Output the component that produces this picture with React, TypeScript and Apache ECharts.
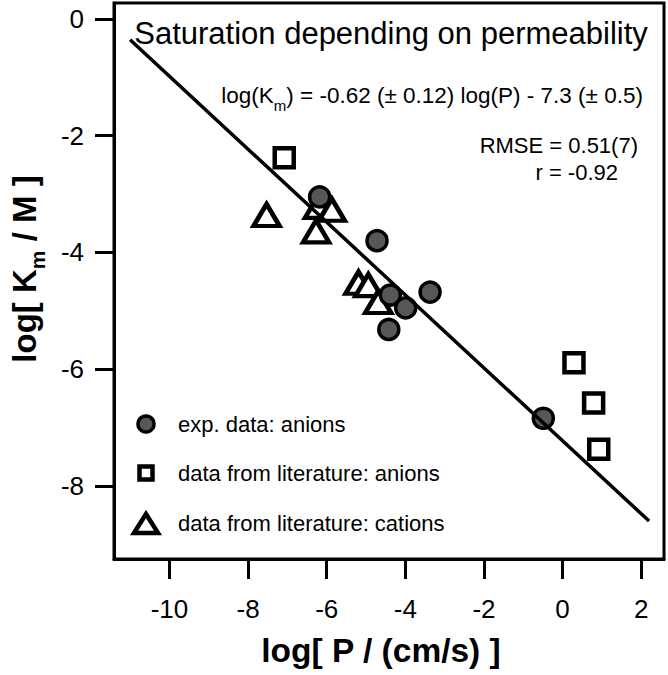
import React, { useEffect, useRef } from "react";
import * as echarts from "echarts";

const xTicks = [-10, -8, -6, -4, -2, 0, 2];
const yTicks = [0, -2, -4, -6, -8];

const expAnions: number[][] = [
  [-6.18, -3.05],
  [-4.72, -3.8],
  [-4.38, -4.73],
  [-3.99, -4.95],
  [-3.37, -4.68],
  [-4.42, -5.32],
  [-0.49, -6.84],
];
const litAnions: number[][] = [
  [-7.08, -2.38],
  [0.29, -5.89],
  [0.79, -6.58],
  [0.92, -7.37],
];
const litCations: number[][] = [
  [-7.53, -3.36],
  [-6.22, -3.22],
  [-5.87, -3.27],
  [-6.27, -3.64],
  [-5.19, -4.52],
  [-4.94, -4.56],
  [-4.69, -4.85],
];
const fitLine: number[][] = [
  [-11, -0.36],
  [2.2, -8.6],
];

const legendNames = [
  "exp. data: anions",
  "data from literature: anions",
  "data from literature: cations",
];

const FONT = "'Liberation Sans', Arial, Helvetica, sans-serif";

export default function App() {
  const ref = useRef<HTMLDivElement>(null);
  useEffect(() => {
    if (!ref.current) return;
    const chart = echarts.init(ref.current, null, { renderer: "svg" });
    const legX = 146;
    const legY = [424, 473, 523];
    chart.setOption({
      animation: false,
      textStyle: { fontFamily: FONT },
      grid: {
        left: 108,
        right: 4,
        top: 3,
        bottom: 116,
        show: true,
        borderColor: "#000",
        borderWidth: 3,
        containLabel: false,
      },
      xAxis: {
        type: "value",
        min: -11.41,
        max: 2.58,
        axisLine: { show: true, onZero: false, lineStyle: { color: "#000", width: 3 } },
        splitLine: { show: false },
        axisTick: {
          show: true,
          customValues: xTicks,
          length: 20,
          inside: false,
          lineStyle: { color: "#000", width: 3 },
        },
        axisLabel: {
          customValues: xTicks,
          fontSize: 26,
          color: "#000",
          margin: 37,
          fontFamily: FONT,
        },
        name: "log[ P / (cm/s) ]",
        nameLocation: "middle",
        nameGap: 74,
        nameTextStyle: {
          fontSize: 33.5,
          fontWeight: "bold",
          color: "#000",
          fontFamily: FONT,
          padding: [0, 16, 0, 0],
        },
      },
      yAxis: {
        type: "value",
        min: -9.25,
        max: 0.27,
        axisLine: { show: true, onZero: false, lineStyle: { color: "#000", width: 3 } },
        splitLine: { show: false },
        axisTick: {
          show: true,
          customValues: yTicks,
          length: 19,
          inside: false,
          lineStyle: { color: "#000", width: 3 },
        },
        axisLabel: {
          customValues: yTicks,
          fontSize: 26,
          color: "#000",
          margin: 30,
          fontFamily: FONT,
        },
        name: "{a|log[ K}{s|m}{a| / M ]}",
        nameLocation: "middle",
        nameGap: 73,
        nameTextStyle: {
          color: "#000",
          fontFamily: FONT,
          padding: [0, 0, 0, 24],
          rich: {
            a: { fontSize: 33, fontWeight: "bold", color: "#000", fontFamily: FONT },
            s: {
              fontSize: 21,
              fontWeight: "bold",
              color: "#000",
              fontFamily: FONT,
              verticalAlign: "bottom",
              padding: [0, 0, -7, 0],
            },
          },
        },
      },
      series: [
        {
          name: legendNames[2],
          type: "scatter",
          data: litCations,
          symbol: "triangle",
          symbolSize: [26, 22],
          itemStyle: { color: "#fff", borderColor: "#000", borderWidth: 4.5, opacity: 1 },
          z: 2,
        },
        {
          name: legendNames[1],
          type: "scatter",
          data: litAnions,
          symbol: "rect",
          symbolSize: 19,
          itemStyle: { color: "#fff", borderColor: "#000", borderWidth: 4.5, opacity: 1 },
          z: 3,
        },
        {
          name: legendNames[0],
          type: "scatter",
          data: expAnions,
          symbol: "circle",
          symbolSize: 20,
          itemStyle: { color: "#575757", borderColor: "#000", borderWidth: 3.5, opacity: 1 },
          z: 4,
        },
        {
          type: "line",
          data: fitLine,
          symbol: "none",
          lineStyle: { color: "#000", width: 3.5 },
          z: 5,
          silent: true,
        },
      ],
      graphic: [
        {
          type: "text",
          x: 391,
          y: 33,
          style: {
            text: "Saturation depending on permeability",
            fontSize: 31,
            fontFamily: FONT,
            fill: "#000",
            align: "center",
            verticalAlign: "middle",
          },
        },
        {
          type: "text",
          x: 643,
          y: 95,
          style: {
            text: "{t|log(K}{s|m}{t|) = -0.62 (± 0.12) log(P) - 7.3 (± 0.5)}",
            fontFamily: FONT,
            fill: "#000",
            align: "right",
            verticalAlign: "middle",
            rich: {
              t: { fontSize: 22.5, fontFamily: FONT, fill: "#000" },
              s: {
                fontSize: 15,
                fontFamily: FONT,
                fill: "#000",
                verticalAlign: "bottom",
                padding: [0, 0, -6, 0],
              },
            },
          },
        },
        {
          type: "text",
          x: 638,
          y: 145,
          style: {
            text: "RMSE = 0.51(7)",
            fontSize: 22,
            fontFamily: FONT,
            fill: "#000",
            align: "right",
            verticalAlign: "middle",
          },
        },
        {
          type: "text",
          x: 618,
          y: 172,
          style: {
            text: "r = -0.92",
            fontSize: 22,
            fontFamily: FONT,
            fill: "#000",
            align: "right",
            verticalAlign: "middle",
          },
        },
        {
          type: "circle",
          shape: { cx: legX, cy: legY[0], r: 8 },
          style: { fill: "#575757", stroke: "#000", lineWidth: 3.5 },
        },
        {
          type: "rect",
          shape: { x: legX - 6.5, y: legY[1] - 6.5, width: 13, height: 13 },
          style: { fill: "#fff", stroke: "#000", lineWidth: 4.5 },
        },
        {
          type: "polygon",
          shape: {
            points: [
              [legX, legY[2] - 9],
              [legX + 12, legY[2] + 10],
              [legX - 12, legY[2] + 10],
            ],
          },
          style: { fill: "#fff", stroke: "#000", lineWidth: 4.5, lineJoin: "miter" },
        },
        ...legendNames.map((n, i) => ({
          type: "text",
          x: 178,
          y: legY[i],
          style: {
            text: n,
            fontSize: 22,
            fontFamily: FONT,
            fill: "#000",
            align: "left",
            verticalAlign: "middle",
          },
        })),
      ],
    });
    return () => chart.dispose();
  }, []);
  return <div ref={ref} style={{ width: 668, height: 675, position: "absolute", left: 0, top: 0 }} />;
}
